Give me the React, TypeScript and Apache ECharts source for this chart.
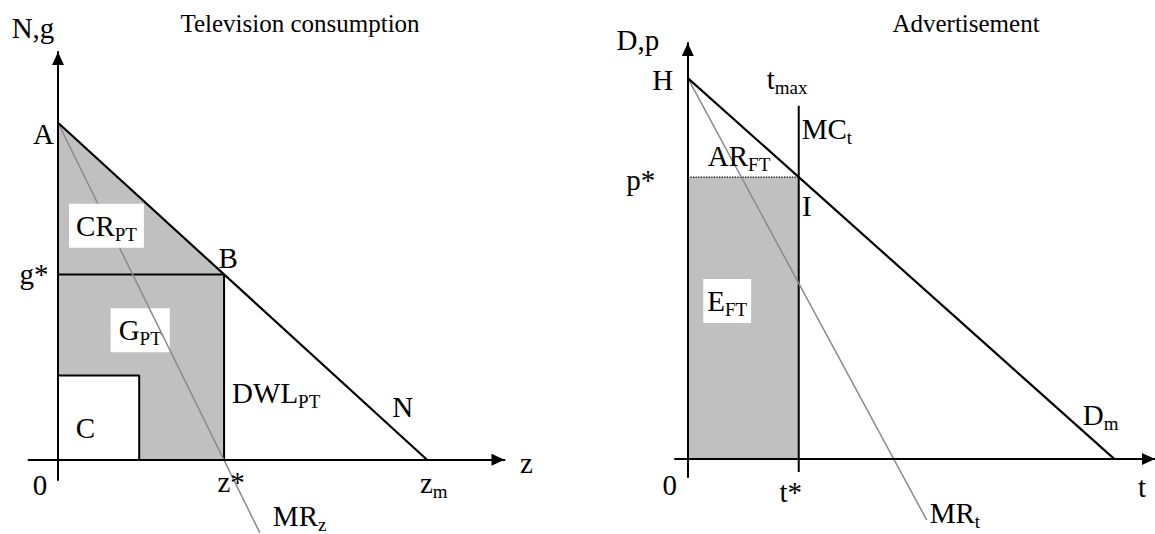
import React, { useEffect, useRef } from "react";
import * as echarts from "echarts";

const FONT = "'Liberation Serif', 'Times New Roman', Times, serif";

// ---------- Left panel: Television consumption (z on x axis, N,g on y axis)
const tvZRange = [-0.8, 12.1];
const tvNRange = [-0.6, 12.1];
const tvDemandN: number[][] = [[0, 10], [10, 0]];
const tvMarginalRevenue: number[][] = [[0, 10], [5.47, -2.17]];
const tvGStarLine: number[][] = [[0, 5.5], [4.5, 5.5]];
const tvZStarLine: number[][] = [[4.5, 5.5], [4.5, 0]];
const tvCBox: number[][] = [[0, 2.5], [2.2, 2.5], [2.2, 0]];
const tvShaded: number[][] = [[0, 10], [4.5, 5.5], [4.5, 0], [2.2, 0], [2.2, 2.5], [0, 2.5]];

// ---------- Right panel: Advertisement (t on x axis, D,p on y axis)
const adTRange = [-0.3, 10.95];
const adDRange = [-0.47, 10.92];
const adDemandD: number[][] = [[0, 10], [10, 0]];
const adMarginalRevenue: number[][] = [[0, 10], [5.6, -1.6]];
const adMCt: number[][] = [[2.6, -0.34], [2.6, 9.27]];
const adPStarLine: number[][] = [[0, 7.4], [2.6, 7.4]];
const adShaded: number[][] = [[0, 0], [2.6, 0], [2.6, 7.4], [0, 7.4]];

type Lbl = { text: string; at: number[]; off: number[]; align?: string; pad?: number[]; size?: number };

const tvLabels: Lbl[] = [
  { text: "N,g", at: [0, 12.1], off: [-25, -24] },
  { text: "A", at: [0, 10], off: [-14.5, 11] },
  { text: "g*", at: [0, 5.5], off: [-24, 0] },
  { text: "B", at: [4.5, 5.5], off: [4, -16] },
  { text: "C", at: [0, 0], off: [27.5, -32] },
  { text: "0", at: [0, 0], off: [-18, 25] },
  { text: "z*", at: [4.5, 0], off: [7, 22] },
  { text: "z{s|m}", at: [10, 0], off: [-7, 23], align: "left" },
  { text: "z", at: [12.1, 0], off: [22, 3] },
  { text: "N", at: [8.5, 1.5], off: [31, -2] },
  { text: "DWL{s|PT}", at: [4.5, 0], off: [8, -67], align: "left" },
  { text: "MR{s|z}", at: [5.47, -2.17], off: [13, -17], align: "left" },
  { text: "CR{s|PT}", at: [1.3, 7], off: [0.5, 2], pad: [4, 7, 4, 7] },
];
const tvLabelsUnder: Lbl[] = [
  { text: "G{s|PT}", at: [2.2, 3.9], off: [1, 2], pad: [4, 8, 4, 8] },
];

const adLabels: Lbl[] = [
  { text: "D,p", at: [0, 10.92], off: [-50, -3] },
  { text: "H", at: [0, 10], off: [-25, 2] },
  { text: "t{s|max}", at: [2.6, 9.27], off: [-32, -27], align: "left" },
  { text: "MC{s|t}", at: [2.6, 9.27], off: [3, 23], align: "left" },
  { text: "AR{s|FT}", at: [0, 7.4], off: [20, -21], align: "left" },
  { text: "p*", at: [0, 7.4], off: [-47, 3] },
  { text: "I", at: [2.6, 7.4], off: [8, 29] },
  { text: "E{s|FT}", at: [0.9, 4.2], off: [1, 2], pad: [4, 4, 4, 4] },
  { text: "D{s|m}", at: [9, 1], off: [11, -6], align: "left" },
  { text: "0", at: [0, 0], off: [-18, 26] },
  { text: "t*", at: [2.6, 0], off: [-8, 33] },
  { text: "MR{s|t}", at: [5.6, -1.6], off: [3, -7], align: "left" },
  { text: "t", at: [10.95, 0], off: [-13, 28] },
];

const rich = {
  s: { fontSize: 19, fontFamily: FONT, color: "#000", padding: [17, 0, 0, 0] },
};

function seg(data: number[][], axis: number, color: string, width: number, z: number, type: string = "solid") {
  return {
    type: "line",
    xAxisIndex: axis,
    yAxisIndex: axis,
    data,
    symbol: "none",
    clip: false,
    silent: true,
    z,
    lineStyle: { color, width, type },
  };
}

function poly(data: number[][], axis: number, color: string, z: number) {
  return {
    type: "custom",
    xAxisIndex: axis,
    yAxisIndex: axis,
    data,
    z,
    silent: true,
    clip: false,
    renderItem: (params: any, api: any) =>
      params.dataIndex === 0
        ? {
            type: "polygon",
            shape: { points: data.map((p) => api.coord(p)) },
            style: { fill: color },
          }
        : null,
  };
}

function labels(items: Lbl[], axis: number, z: number) {
  return {
    type: "scatter",
    xAxisIndex: axis,
    yAxisIndex: axis,
    z,
    silent: true,
    symbolSize: 1,
    clip: false,
    itemStyle: { color: "rgba(0,0,0,0)" },
    data: items.map((it) => ({
      value: it.at,
      label: {
        show: true,
        position: "inside",
        formatter: it.text,
        offset: it.off,
        align: it.align || "center",
        verticalAlign: "middle",
        fontSize: it.size || 29,
        fontFamily: FONT,
        color: "#000",
        opacity: 1,
        rich,
        backgroundColor: it.pad ? "#ffffff" : "transparent",
        padding: it.pad || 0,
      },
    })),
  };
}

function axis(range: number[], gridIndex: number) {
  return {
    type: "value",
    gridIndex,
    min: range[0],
    max: range[1],
    z: 3,
    axisLine: {
      show: true,
      onZero: true,
      symbol: ["none", "triangle"],
      symbolSize: [12, 13],
      symbolOffset: [0, -6.5],
      lineStyle: { color: "#000", width: 2 },
    },
    axisTick: { show: false },
    axisLabel: { show: false },
    splitLine: { show: false },
  };
}

function title(text: string, x: number, y: number) {
  return {
    type: "text",
    x,
    y,
    silent: true,
    style: {
      text,
      fontSize: 25,
      fontFamily: FONT,
      fill: "#000",
      align: "center",
      textAlign: "center",
      verticalAlign: "middle",
      textVerticalAlign: "middle",
    },
  };
}

export default function App() {
  const ref = useRef<HTMLDivElement>(null);
  useEffect(() => {
    document.body.style.margin = "0";
    const chart = echarts.init(ref.current!, null, { renderer: "svg" });
    chart.setOption({
      animation: false,
      backgroundColor: "#fff",
      grid: [
        { left: 28.5, top: 52, width: 476, height: 428 },
        { left: 675, top: 43, width: 485, height: 434 },
      ],
      xAxis: [axis(tvZRange, 0), axis(adTRange, 1)],
      yAxis: [axis(tvNRange, 0), axis(adDRange, 1)],
      graphic: [title("Television consumption", 300, 23), title("Advertisement", 966, 23)],
      series: [
        poly(tvShaded, 0, "#c0c0c0", 1),
        labels(tvLabelsUnder, 0, 1.5),
        seg(tvGStarLine, 0, "#000", 2, 2),
        seg(tvZStarLine, 0, "#000", 2, 2),
        seg(tvCBox, 0, "#000", 2, 2),
        seg(tvMarginalRevenue, 0, "#8a8a8a", 1.5, 2),
        seg(tvDemandN, 0, "#000", 2.2, 2),
        labels(tvLabels, 0, 4),

        poly(adShaded, 1, "#c0c0c0", 1),
        seg(adPStarLine, 1, "#000", 1.3, 2, "dotted"),
        seg(adMCt, 1, "#000", 2, 2),
        seg(adMarginalRevenue, 1, "#8a8a8a", 1.5, 2),
        seg(adDemandD, 1, "#000", 2.2, 2),
        labels(adLabels, 1, 4),
      ],
    });
    return () => chart.dispose();
  }, []);
  return <div ref={ref} style={{ width: 1155, height: 534 }} />;
}
